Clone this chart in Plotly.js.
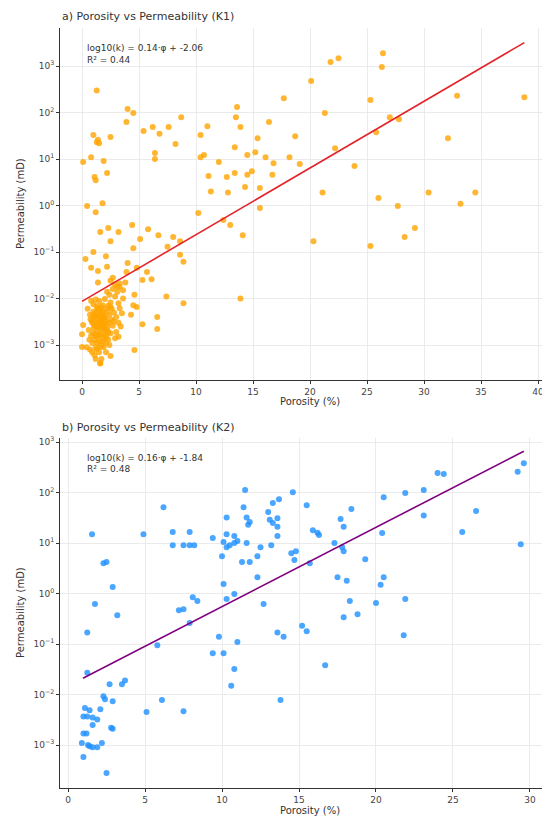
<!DOCTYPE html>
<html>
<head>
<meta charset="utf-8">
<script src="https://cdn.plot.ly/plotly-3.0.1.min.js"></script>
<style>html,body{margin:0;padding:0;background:#fff;}#chart{width:542px;height:819px;}</style>
</head>
<body>
<div id="chart"></div>
<script>
// ---- Data: panel a (K1) ----
const poroK1 = [1.29,4.0,4.5,3.9,8.7,5.4,6.2,6.8,7.6,8.2,1.0,1.4,1.5,1.3,2.5,0.1,0.8,1.9,1.1,1.2,2.2,6.4,6.4,10.4,11.0,10.4,10.7,12.0,11.1,12.7,13.4,14.5,14.9,13.6,13.5,13.9,16.4,13.4,14.5,15.2,15.4,16.1,16.8,11.3,12.8,14.3,15.6,0.45,
21.8,22.5,26.4,26.3,20.1,17.7,21.3,25.3,32.9,38.8,18.7,27.0,27.8,25.8,22.2,32.1,18.2,19.1,16.7,23.9,21.1,26.0,27.7,30.4,33.2,34.5,20.3,25.3,28.3,29.2,
1.2,1.8,2.3,3.2,1.6,2.5,4.4,5.8,5.1,4.5,6.7,8.0,8.6,10.2,12.4,13.0,14.1,15.6,1.0,0.3,2.1,0.8,1.4,2.2,1.4,4.0,4.8,3.9,7.5,8.6,8.9,5.7,5.3,6.1,2.7,3.3,3.1,3.6,7.4,8.9,13.9,4.6,4.5,4.8,4.3,3.2,2.5,6.6,6.6,5.3,4.6,2.5,3.2,0.1,0.0,0.0,1.6,
0.5,0.7,0.9,1.0,1.1,1.2,1.3,1.4,1.5,1.6,1.7,1.8,1.9,2.0,2.1,2.2,2.3,2.4,2.5,2.6,
0.6,0.8,0.9,1.0,1.1,1.2,1.3,1.4,1.5,1.6,1.7,1.8,1.9,2.0,2.1,2.2,2.3,2.5,2.7,2.9,
0.4,0.7,0.9,1.1,1.3,1.5,1.7,1.9,2.1,2.4,1.2,1.6,
0.8,1.0,1.2,1.5,1.8,2.0,2.3,2.6,2.8,3.0,3.2,3.4,3.0,2.8,3.5,3.3,
1.15,1.35,1.55,1.75,1.45,1.25,1.65,1.85,2.05,2.25,1.05,0.95,1.95,2.15,1.35,1.55,
2.4,2.9,2.7,3.1,2.2,3.6,3.3,2.9,2.5,3.8,
0.85,1.05,1.25,1.45,1.65,1.85,2.05,0.75,1.15,1.35,1.55,1.75,1.95,2.35,0.65,1.45,1.85,2.25];
const permK1 = [300,120,98,63,79,40,49,35,49,21,33,26,22,23,30,8.7,11,9.1,4.1,3.5,5.0,13.5,10,33,51,11,12.3,8.7,4.3,4.1,5.0,4.6,5.5,132,79,49,63,18,12.3,14,28,11,8.1,2.0,1.9,2.5,2.4,0.98,
1230,1480,1900,955,480,204,98,186,229,214,31,79,72,38,17,28,11,7.8,4.6,7.1,1.9,1.45,0.98,1.9,1.1,1.9,0.17,0.135,0.21,0.33,
0.72,1.12,0.33,0.27,0.27,0.17,0.38,0.31,0.19,0.12,0.23,0.21,0.17,0.69,0.49,0.38,0.23,0.89,0.1,0.071,0.081,0.046,0.039,0.048,0.022,0.058,0.046,0.037,0.13,0.087,0.062,0.037,0.025,0.026,0.028,0.021,0.018,0.015,0.011,0.0079,0.010,0.012,0.0072,0.0066,0.0045,0.0079,0.0066,0.0040,0.0022,0.0028,0.00078,0.00058,0.0015,0.0027,0.0017,0.00091,0.00041,
0.0060,0.0045,0.0030,0.0052,0.0038,0.0025,0.0068,0.0042,0.0031,0.0055,0.0022,0.0036,0.0047,0.0028,0.0061,0.0033,0.0019,0.0044,0.0082,0.0035,
0.0021,0.0016,0.0011,0.0018,0.0013,0.0009,0.0015,0.0020,0.0012,0.0017,0.0010,0.0014,0.0024,0.0016,0.0011,0.0021,0.0013,0.0018,0.0026,0.0014,
0.0009,0.0008,0.0007,0.0006,0.0008,0.0007,0.0005,0.0009,0.0007,0.0010,0.0005,0.0004,
0.0090,0.0075,0.0095,0.0088,0.0072,0.0098,0.0070,0.0060,0.0050,0.0040,0.0030,0.0025,0.0019,0.0032,0.0048,0.0062,
0.0048,0.0034,0.0026,0.0040,0.0058,0.0029,0.0065,0.0027,0.0039,0.0052,0.0023,0.0041,0.0019,0.0015,0.0011,0.0009,
0.012,0.011,0.016,0.014,0.014,0.010,0.018,0.020,0.024,0.022,
0.0033,0.0027,0.0043,0.0024,0.0033,0.0050,0.0022,0.0036,0.0017,0.0062,0.0045,0.0029,0.0037,0.0030,0.0013,0.0016,0.0012,0.0025];
const fitK1X = [0, 38.8];
const fitK1Y = [0.0087, 3200];

// ---- Data: panel b (K2) ----
const poroK2 = [1.56,4.9,6.2,6.8,6.8,7.5,7.9,7.9,8.2,2.3,2.5,2.9,1.75,3.2,7.2,7.5,8.1,8.4,9.4,10.1,10.3,10.5,10.8,11.0,10.8,10.3,11.5,11.4,11.6,11.8,11.7,11.6,10.0,10.3,11.3,11.8,12.3,12.5,13.0,13.2,13.6,13.7,13.6,13.3,13.6,10.1,10.8,10.3,12.3,12.7,
14.6,13.3,15.5,13.1,15.9,16.2,16.3,18.4,17.7,17.9,17.3,17.8,17.9,14.5,14.8,14.7,15.7,19.3,
20.5,21.9,23.1,23.1,24.0,24.4,26.5,25.6,20.4,29.6,29.2,29.4,17.5,18.1,20.5,20.3,18.3,20.0,21.9,18.8,17.9,
13.6,14.0,15.2,15.5,21.8,16.7,13.8,1.25,7.9,5.8,9.8,11.0,9.4,10.1,10.8,10.6,1.25,2.7,3.5,3.7,2.3,2.4,2.9,6.1,5.1,7.5,
1.1,1.4,1.25,1.0,1.6,1.9,2.1,1.6,2.8,2.9,1.0,1.2,0.9,1.3,1.6,1.9,2.2,1.4,1.0,2.5];
const permK2 = [15,15,51,16.6,9.1,9.1,16.6,9.1,9.1,4.0,4.2,1.35,0.62,0.37,0.47,0.49,0.85,0.71,12.6,10.5,15,9.1,13.8,11,10,32,112,51,32,26,23,10,5.5,8.3,4.2,4.2,5.5,8.3,41,9.1,13.8,74,31,25,21,1.55,0.98,0.78,2.1,0.62,
102,62,56,29,18,16,14.5,47,30,21,10,8.3,6.9,6.3,6.9,4.6,4.0,4.8,
81,98,112,35,245,234,43,16.6,15.8,380,257,9.5,2.1,1.8,2.1,1.5,0.71,0.65,0.78,0.39,0.34,
0.17,0.14,0.23,0.18,0.15,0.038,0.0078,0.17,0.26,0.095,0.14,0.11,0.066,0.066,0.032,0.015,0.027,0.016,0.016,0.019,0.0093,0.0081,0.0074,0.0078,0.0045,0.0047,
0.0054,0.0049,0.0037,0.0037,0.0035,0.0032,0.0051,0.0025,0.0022,0.0021,0.0017,0.0017,0.0011,0.0010,0.00091,0.00091,0.0011,0.00095,0.00058,0.00028];
const fitK2X = [0.97, 29.6];
const fitK2Y = [0.021, 660];

const xTicksK1 = [0,5,10,15,20,25,30,35,40];
const xTicksK2 = [0,5,10,15,20,25,30];
const yTickVals = [0.001,0.01,0.1,1,10,100,1000];
const yTickText = ['10<sup>\u22123</sup>','10<sup>\u22122</sup>','10<sup>\u22121</sup>','10<sup>0</sup>','10<sup>1</sup>','10<sup>2</sup>','10<sup>3</sup>'];

const titleA = 'a) Porosity vs Permeability (K1)';
const titleB = 'b) Porosity vs Permeability (K2)';
const eqA = 'log10(k) = 0.14\u00b7\u03c6 + -2.06';
const r2A = 'R\u00b2 = 0.44';
const eqB = 'log10(k) = 0.16\u00b7\u03c6 + -1.84';
const r2B = 'R\u00b2 = 0.48';

const traces = [
  {x: poroK1, y: permK1, type:'scatter', mode:'markers', xaxis:'x', yaxis:'y',
   marker:{color:'#FFA500', size:6, opacity:0.8, line:{width:0}}},
  {x: fitK1X, y: fitK1Y, type:'scatter', mode:'lines', xaxis:'x', yaxis:'y',
   line:{color:'#e3242b', width:1.6}},
  {x: poroK2, y: permK2, type:'scatter', mode:'markers', xaxis:'x2', yaxis:'y2',
   marker:{color:'#1E90FF', size:6, opacity:0.8, line:{width:0}}},
  {x: fitK2X, y: fitK2Y, type:'scatter', mode:'lines', xaxis:'x2', yaxis:'y2',
   line:{color:'#800080', width:1.6}}
];

const axCommon = {
  showline:true, linecolor:'#333', linewidth:1, mirror:false,
  ticks:'outside', ticklen:3, tickwidth:1, tickcolor:'#333',
  showgrid:true, gridcolor:'#e6e6e6', gridwidth:0.8, zeroline:false,
  ticklabeloverflow:'allow',
  tickfont:{family:'DejaVu Sans', size:9, color:'#444'}
};

const layout = {
  width:542, height:819,
  margin:{l:60, r:0, t:28, b:31},
  paper_bgcolor:'#fff', plot_bgcolor:'#fff',
  showlegend:false,
  font:{family:'DejaVu Sans', color:'#333'},
  xaxis:Object.assign({}, axCommon, {domain:[0,1], anchor:'y', range:[-1.93,40.35], tickvals:xTicksK1}),
  yaxis:Object.assign({}, axCommon, {domain:[0.537,1], anchor:'x', type:'log', range:[-3.75,3.82], tickvals:yTickVals, ticktext:yTickText}),
  xaxis2:Object.assign({}, axCommon, {domain:[0,1], anchor:'y2', range:[-0.52,30.78], tickvals:xTicksK2}),
  yaxis2:Object.assign({}, axCommon, {domain:[0,0.4605], anchor:'x2', type:'log', range:[-3.85,3.08], tickvals:yTickVals, ticktext:yTickText}),
  annotations:[
    {text:titleA, xref:'paper', yref:'paper', x:0, y:1.0145, xanchor:'left', yanchor:'middle', showarrow:false, font:{size:11, color:'#333'}},
    {text:titleB, xref:'paper', yref:'paper', x:0, y:0.475, xanchor:'left', yanchor:'middle', showarrow:false, font:{size:11, color:'#333'}},
    {text:eqA, xref:'paper', yref:'paper', x:0.052, y:(788-48)/760, xanchor:'left', yanchor:'middle', showarrow:false, font:{size:9, color:'#333'}},
    {text:r2A, xref:'paper', yref:'paper', x:0.052, y:(788-60)/760, xanchor:'left', yanchor:'middle', showarrow:false, font:{size:9, color:'#333'}},
    {text:eqB, xref:'paper', yref:'paper', x:0.052, y:(788-458)/760, xanchor:'left', yanchor:'middle', showarrow:false, font:{size:9, color:'#333'}},
    {text:r2B, xref:'paper', yref:'paper', x:0.052, y:(788-469)/760, xanchor:'left', yanchor:'middle', showarrow:false, font:{size:9, color:'#333'}},
    {text:'Porosity (%)', xref:'paper', yref:'paper', x:0.519, y:(788-401)/760, xanchor:'center', yanchor:'middle', showarrow:false, font:{size:10, color:'#333'}},
    {text:'Porosity (%)', xref:'paper', yref:'paper', x:0.519, y:(788-810)/760, xanchor:'center', yanchor:'middle', showarrow:false, font:{size:10, color:'#333'}},
    {text:'Permeability (mD)', xref:'paper', yref:'paper', x:(20-60)/482, y:(788-204)/760, xanchor:'center', yanchor:'middle', textangle:-90, showarrow:false, font:{size:10, color:'#333'}},
    {text:'Permeability (mD)', xref:'paper', yref:'paper', x:(20-60)/482, y:(788-613)/760, xanchor:'center', yanchor:'middle', textangle:-90, showarrow:false, font:{size:10, color:'#333'}}
  ]
};

Plotly.newPlot('chart', traces, layout, {staticPlot:true, displayModeBar:false});
</script>
</body>
</html>
